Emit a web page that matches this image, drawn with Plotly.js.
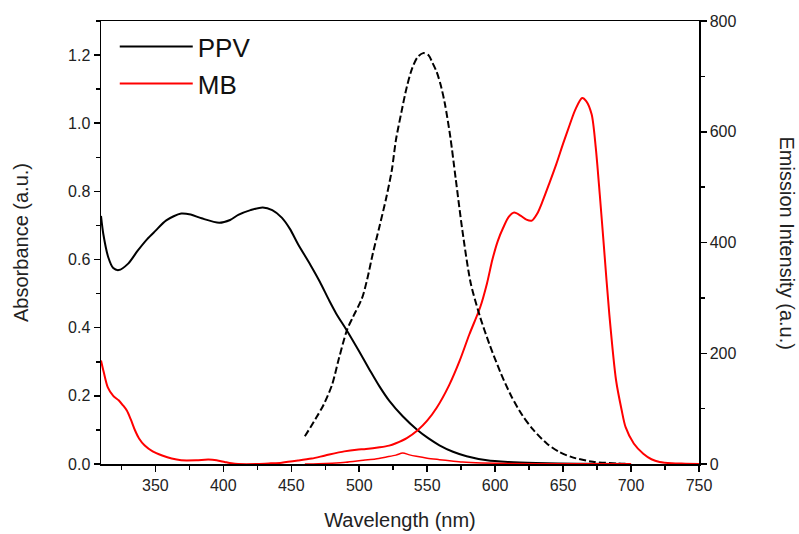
<!DOCTYPE html>
<html>
<head>
<meta charset="utf-8">
<script src="https://cdn.plot.ly/plotly-3.0.1.min.js"></script>
<style>html,body{margin:0;padding:0;background:#fff;}#chart{width:799px;height:534px;}</style>
</head>
<body>
<div id="chart"></div>
<script>
// PPV absorbance (left axis)
const ppvAbsX = [310, 311.7, 315.4, 319, 323, 330, 337, 344, 350, 358, 369, 376, 384, 397, 405, 411, 420, 429, 436, 443, 449, 455, 464, 471, 478, 483, 491, 500, 508, 515, 522, 532, 543, 551, 559, 569, 579, 594, 610, 630, 660, 700];
const ppvAbsY = [0.728, 0.675, 0.606, 0.575, 0.569, 0.588, 0.626, 0.66, 0.684, 0.715, 0.735, 0.732, 0.721, 0.708, 0.716, 0.731, 0.745, 0.753, 0.745, 0.723, 0.69, 0.645, 0.585, 0.535, 0.479, 0.442, 0.391, 0.33, 0.274, 0.227, 0.186, 0.14, 0.099, 0.075, 0.055, 0.036, 0.023, 0.011, 0.006, 0.003, 0.001, 0];

// PPV emission (right axis)
const ppvEmX = [460, 468, 474, 480, 485, 491, 495.5, 502, 506, 510, 515, 520, 524, 527, 531, 535, 539, 543, 547, 551, 554, 557, 560, 563, 567, 571, 576, 582, 589, 596, 604, 612, 620, 628, 638, 647, 657, 672, 690, 700];
const ppvEmY = [50, 82, 108, 143, 190, 242, 266, 299, 335, 380, 430, 482, 531, 585, 635, 681, 715, 735, 742, 738, 724, 708, 684, 651, 591, 515, 420, 327, 265, 215, 165, 122, 88, 62, 37, 22, 12, 4, 1, 0];

// MB absorbance (left axis)
const mbAbsX = [310, 312, 315, 319, 323, 326, 329, 332, 335, 338, 342, 348, 355, 362, 369, 380, 389, 395, 401, 406, 411, 425, 435, 443, 455, 465, 475, 489, 498, 505, 515, 522, 527, 535, 543, 550, 557, 566, 574, 581, 589, 594, 598, 602, 606, 610, 614, 619, 623, 627, 631, 635, 640, 645, 650, 655, 659, 664, 667, 671, 674, 677, 680, 684, 689, 693, 696, 702, 709, 715, 721, 730, 740, 750];
const mbAbsY = [0.304, 0.27, 0.225, 0.2, 0.187, 0.173, 0.157, 0.13, 0.099, 0.075, 0.055, 0.037, 0.025, 0.016, 0.011, 0.011, 0.013, 0.011, 0.006, 0.002, 0, 0, 0.002, 0.004, 0.01, 0.016, 0.025, 0.037, 0.042, 0.044, 0.049, 0.054, 0.061, 0.076, 0.099, 0.127, 0.165, 0.23, 0.304, 0.38, 0.46, 0.53, 0.6, 0.655, 0.694, 0.725, 0.738, 0.728, 0.717, 0.714, 0.735, 0.772, 0.825, 0.88, 0.94, 0.997, 1.04, 1.074, 1.065, 1.026, 0.93, 0.79, 0.64, 0.44, 0.245, 0.16, 0.108, 0.06, 0.03, 0.014, 0.006, 0.002, 0.001, 0];

// MB emission (right axis)
const mbEmX = [460, 470, 480, 490, 503, 512, 520, 527, 532, 537, 542, 550, 559, 568, 576, 590, 610, 650, 700];
const mbEmY = [0, 0.5, 1.5, 3, 6.7, 9, 12.6, 16, 19.9, 16.5, 13.9, 10.5, 7.9, 5.5, 3.6, 2, 1, 0.5, 0.3];

const RED = '#ff0000';
const FONT = 'Liberation Sans, Arial, sans-serif';

const traces = [
  {x: ppvAbsX, y: ppvAbsY, name: 'PPV', legendgroup: 'ppv', type: 'scatter', mode: 'lines',
   line: {color: '#000', width: 2, shape: 'spline', smoothing: 0.8}, yaxis: 'y'},
  {x: mbAbsX, y: mbAbsY, name: 'MB', legendgroup: 'mb', type: 'scatter', mode: 'lines',
   line: {color: RED, width: 2, shape: 'spline', smoothing: 0.8}, yaxis: 'y'},
  {x: ppvEmX, y: ppvEmY, name: 'PPV emission', legendgroup: 'ppv', showlegend: false, type: 'scatter', mode: 'lines',
   line: {color: '#000', width: 2, dash: '7px,3px', shape: 'spline', smoothing: 0.8}, yaxis: 'y2'},
  {x: mbEmX, y: mbEmY, name: 'MB emission', legendgroup: 'mb', showlegend: false, type: 'scatter', mode: 'lines',
   line: {color: RED, width: 1.5, shape: 'spline', smoothing: 0.8}, yaxis: 'y2'}
];

const axisCommon = {
  showline: true, linecolor: '#000', linewidth: 1.5,
  ticks: 'outside', ticklen: 6, tickwidth: 1.5, tickcolor: '#000',
  showgrid: false, zeroline: false,
  tickfont: {family: FONT, size: 16, color: '#222'}
};

const layout = {
  width: 799, height: 534,
  margin: {l: 101, r: 100, t: 21, b: 70},
  paper_bgcolor: '#fff', plot_bgcolor: '#fff',
  font: {family: FONT, color: '#222'},
  showlegend: true,
  legend: {x: 0.023, y: 0.995, xanchor: 'left', yanchor: 'top', font: {family: FONT, size: 26, color: '#111'},
           bgcolor: 'rgba(0,0,0,0)', itemwidth: 73, tracegroupgap: 0},
  xaxis: Object.assign({}, axisCommon, {
    range: [310, 750], dtick: 50, tick0: 0, mirror: true,
    minor: {dtick: 25, tick0: 0, ticks: 'outside', ticklen: 4, tickwidth: 1.5, tickcolor: '#000'},
    title: {text: 'Wavelength (nm)', font: {family: FONT, size: 20, color: '#222'}, standoff: 20}
  }),
  yaxis: Object.assign({}, axisCommon, {
    range: [0, 1.3], dtick: 0.2, tick0: 0, tickformat: '.1f',
    minor: {dtick: 0.1, tick0: 0, ticks: 'outside', ticklen: 4, tickwidth: 1.5, tickcolor: '#000'},
    title: {text: 'Absorbance (a.u.)', font: {family: FONT, size: 20, color: '#222'}, standoff: 34}
  }),
  yaxis2: Object.assign({}, axisCommon, {
    overlaying: 'y', side: 'right', range: [0, 800], dtick: 200, tick0: 0,
    minor: {dtick: 100, tick0: 0, ticks: 'outside', ticklen: 4, tickwidth: 1.5, tickcolor: '#000'}
  }),
  annotations: [{
    text: 'Emission Intensity (a.u.)', xref: 'paper', yref: 'paper', x: 1, y: 0.5,
    xshift: 88, textangle: 90, showarrow: false, xanchor: 'center', yanchor: 'middle',
    font: {family: FONT, size: 20, color: '#222'}
  }]
};

Plotly.newPlot('chart', traces, layout, {displayModeBar: false, staticPlot: true});
</script>
</body>
</html>
